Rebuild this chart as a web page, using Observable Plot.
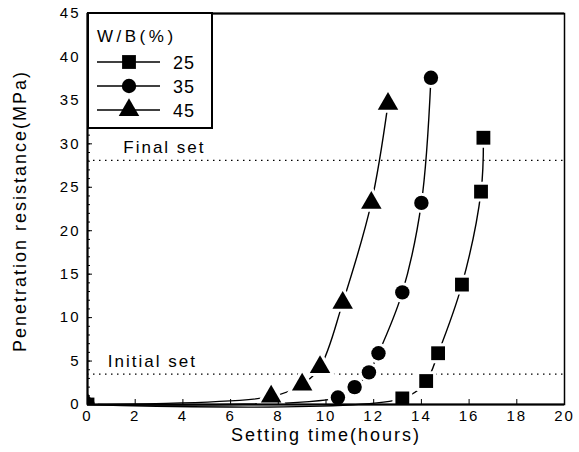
<!DOCTYPE html>
<html>
<head>
<meta charset="utf-8">
<script src="https://cdn.jsdelivr.net/npm/d3@7"></script>
<script src="https://cdn.jsdelivr.net/npm/@observablehq/plot@0.6"></script>
<style>
  html, body { margin: 0; padding: 0; background: #fff; }
  #wrap { position: relative; width: 579px; height: 452px; font-family: "Liberation Sans", Arial, sans-serif; }
  #legend { position: absolute; left: 87px; top: 12px; width: 122px; height: 113px; border: 2px solid #000; background: #fff; }
</style>
</head>
<body>
<div id="wrap"></div>
<script>
// Data
const series = ["25", "35", "45"];
const symbols = ["square", "circle", "triangle"];
const time25 = [0, 13.2, 14.2, 14.7, 15.7, 16.5, 16.6];
const res25  = [0, 0.7, 2.7, 5.9, 13.8, 24.5, 30.7];
const time35 = [0, 10.5, 11.2, 11.8, 12.2, 13.2, 14.0, 14.4];
const res35  = [0, 0.8, 2.0, 3.7, 5.9, 12.9, 23.2, 37.6];
const time45 = [0, 7.7, 9.0, 9.75, 10.7, 11.9, 12.6];
const res45  = [0, 0.9, 2.3, 4.3, 11.7, 23.2, 34.6];
const refNames = ["Final set", "Initial set"];
const refValues = [28.1, 3.5];
const refLabelX = [1.5, 0.85];
const refLabelY = [29.6, 4.95];
const xTicks = d3.range(0, 21, 2);
const yTicks = d3.range(0, 46, 5);
const yMinor = d3.range(0, 46, 1);
const legendTitle = "W/B(%)";
const xLabel = "Setting time(hours)";
const yLabel = "Penetration resistance(MPa)";

const symbolRadius = {square: 7.8, circle: 7.2, triangle: 7.6};

const rows = [];
[[time25, res25], [time35, res35], [time45, res45]].forEach(([t, r], i) => {
  t.forEach((x, j) => rows.push({series: series[i], symbol: symbols[i], x, y: r[j]}));
});
const refs = refNames.map((name, i) => ({name, value: refValues[i], lx: refLabelX[i], ly: refLabelY[i]}));

const dotMarks = [];
symbols.forEach(s => {
  const data = rows.filter(d => d.symbol === s);
  dotMarks.push(Plot.dot(data, {x: "x", y: "y", symbol: s, r: symbolRadius[s], fill: "#fff", stroke: "#fff", strokeWidth: 6, clip: true}));
});
symbols.forEach(s => {
  const data = rows.filter(d => d.symbol === s);
  dotMarks.push(Plot.dot(data, {x: "x", y: "y", symbol: s, r: symbolRadius[s], fill: "#000", stroke: "none", clip: true}));
});

const plot = Plot.plot({
  width: 579,
  height: 452,
  marginLeft: 87,
  marginRight: 15,
  marginTop: 13,
  marginBottom: 48,
  style: {fontFamily: "'Liberation Sans', Arial, sans-serif", fontSize: "15px", color: "#000", background: "#fff", letterSpacing: "2px"},
  x: {domain: [0, 20]},
  y: {domain: [0, 45]},
  marks: [
    Plot.ruleY(refs, {y: "value", stroke: "#000", strokeWidth: 1.2, strokeDasharray: "1.5,4.5"}),
    Plot.text(refs, {x: "lx", y: "ly", text: "name", textAnchor: "start", fontSize: 17, letterSpacing: "2px"}),
    Plot.line(rows, {x: "x", y: "y", z: "series", curve: "catmull-rom", stroke: "#000", strokeWidth: 1.4}),
    ...dotMarks,
    Plot.axisY({ticks: yMinor, tickSize: -3, tickFormat: () => "", label: null}),
    Plot.axisY({ticks: yTicks, tickSize: -5, tickPadding: 12, label: null}),
    Plot.axisX({ticks: xTicks, tickSize: -5, tickPadding: 11, label: null}),
    Plot.text([yLabel], {frameAnchor: "left", textAnchor: "middle", rotate: -90, dx: -67, dy: 2, fontSize: 18, letterSpacing: "3px"}),
    Plot.text([xLabel], {frameAnchor: "bottom", textAnchor: "middle", dy: 36, fontSize: 18, letterSpacing: "2.8px"}),
    Plot.frame({stroke: "#000", strokeWidth: 1.5}),
    Plot.ruleX([0], {stroke: "#000", strokeWidth: 2}),
    Plot.ruleY([0, 45], {stroke: "#000", strokeWidth: 2})
  ]
});

const wrap = document.getElementById("wrap");
wrap.appendChild(plot);

// Legend
const legend = document.createElement("div");
legend.id = "legend";
const ns = "http://www.w3.org/2000/svg";
const lsvg = document.createElementNS(ns, "svg");
lsvg.setAttribute("width", 122);
lsvg.setAttribute("height", 113);
lsvg.style.fontFamily = "'Liberation Sans', Arial, sans-serif";
const title = document.createElementNS(ns, "text");
title.setAttribute("x", 8);
title.setAttribute("y", 28);
title.setAttribute("font-size", 17);
title.setAttribute("letter-spacing", "3.5px");
title.textContent = legendTitle;
lsvg.appendChild(title);
const sym = {square: d3.symbolSquare, circle: d3.symbolCircle, triangle: d3.symbolTriangle};
series.forEach((s, i) => {
  const cy = 48 + i * 24;
  const line = document.createElementNS(ns, "line");
  line.setAttribute("x1", 8); line.setAttribute("x2", 71);
  line.setAttribute("y1", cy); line.setAttribute("y2", cy);
  line.setAttribute("stroke", "#000"); line.setAttribute("stroke-width", 1.4);
  lsvg.appendChild(line);
  const p = document.createElementNS(ns, "path");
  p.setAttribute("d", d3.symbol(sym[symbols[i]], Math.PI * symbolRadius[symbols[i]] ** 2)());
  p.setAttribute("transform", `translate(40,${cy})`);
  lsvg.appendChild(p);
  const t = document.createElementNS(ns, "text");
  t.setAttribute("x", 84); t.setAttribute("y", cy + 7);
  t.setAttribute("font-size", 18);
  t.setAttribute("letter-spacing", "1px");
  t.textContent = s;
  lsvg.appendChild(t);
});
legend.appendChild(lsvg);
wrap.appendChild(legend);
</script>
</body>
</html>
